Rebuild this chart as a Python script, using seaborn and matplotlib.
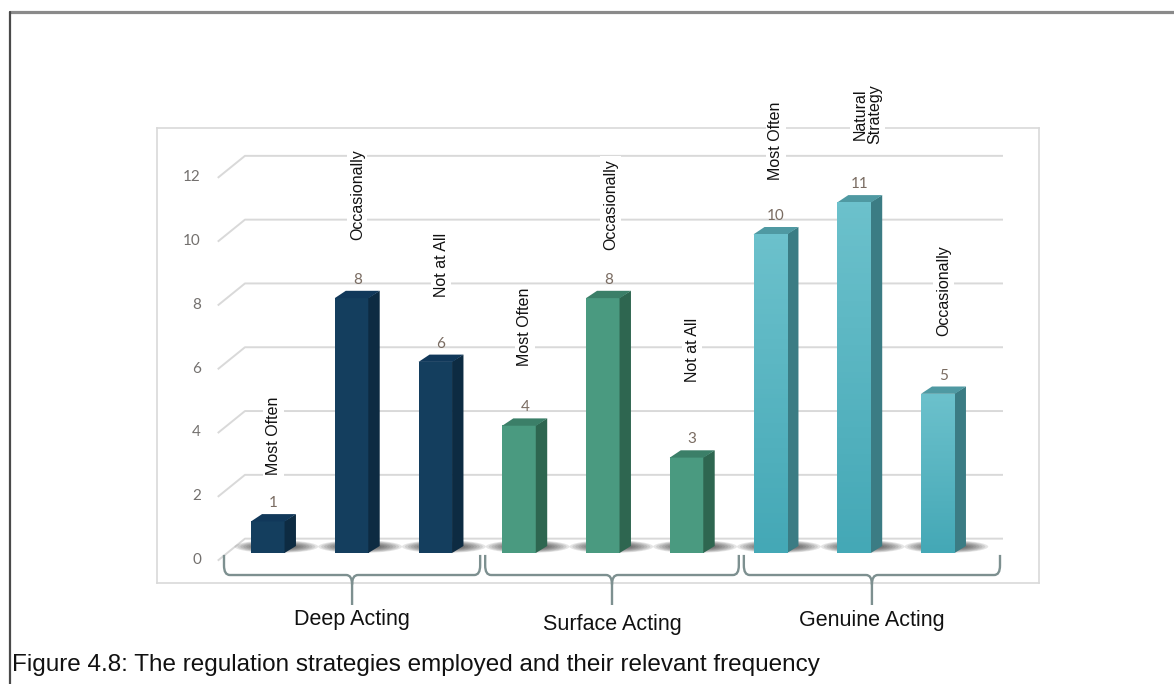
import numpy as np
import pandas as pd
import matplotlib
matplotlib.use("Agg")
import matplotlib.pyplot as plt
from matplotlib.patches import Polygon, Ellipse, PathPatch
from matplotlib.path import Path
from matplotlib.lines import Line2D
from matplotlib.transforms import offset_copy
import seaborn as sns

# ---- data -------------------------------------------------------------
groups = ["Deep Acting", "Surface Acting", "Genuine Acting"]
strategies = ["Most Often", "Occasionally", "Not at All",
              "Most Often", "Occasionally", "Not at All",
              "Most Often", "Natural\nStrategy", "Occasionally"]
counts = [1, 8, 6, 4, 8, 3, 10, 11, 5]
bar_group = [g for g in groups for _ in range(3)]
y_ticks = [0, 2, 4, 6, 8, 10, 12]
caption = "Figure 4.8: The regulation strategies employed and their relevant frequency"

# ---- styling ----------------------------------------------------------
front = {"Deep Acting": "#143e5e", "Surface Acting": "#4a9a80", "Genuine Acting": "#52b6c3"}
side = {"Deep Acting": "#0d2b42", "Surface Acting": "#2e6650", "Genuine Acting": "#3b7c84"}
top = {"Deep Acting": "#11385a", "Surface Acting": "#3b7f68", "Genuine Acting": "#4f99a2"}
# extra lift (pixels) of each rotated strategy label above its value label
label_lift = [17, 29, 36, 30, 19, 46, 25, 29, 28]
# horizontal nudge (pixels) of each rotated strategy label
label_shift = [0, 0, 0, 0, 2, 0, 0, 8, 0]
# small vertical drop (pixels) of each group caption
group_drop = [0, 5, 1]

sns.set_style("white")
plt.rcParams["font.family"] = ["Liberation Sans", "DejaVu Sans"]

W, H = 1174, 684
fig = plt.figure(figsize=(W / 100, H / 100), dpi=100)
L, R, T, B = 157, 1039, 128, 583
ax = fig.add_axes([L / W, (H - B) / H, (R - L) / W, (B - T) / H])

df = pd.DataFrame({"bar": list(range(len(counts))), "count": counts, "group": bar_group})
sns.barplot(data=df, x="bar", y="count", hue="group", palette=front, dodge=False,
            width=0.405, saturation=1, legend=False, ax=ax, zorder=3,
            linewidth=0, edgecolor="none")

# axis scale: 83.75 px per category, 31.9 px per unit
sx, sy = 83.75, 31.9
x0_px, y0_px = 268, 553
xlim = (-(x0_px - L) / sx, (R - x0_px) / sx)
ylim = (-(B - y0_px) / sy, (y0_px - T) / sy)
ax.set_xticks([])
ax.set_yticks([])
ax.set_xlabel("")
ax.set_ylabel("")
for s in ax.spines.values():
    s.set_color("#d9d9d9")
    s.set_linewidth(1.2)

dx, dy = 11 / sx, 7 / sy       # depth of the 3-D bars
fx, bx = -0.6, -0.275           # front / back x of the wall grid
back_end = 8.776
grid_c = "#d9d9d9"

# back-wall gridlines with the receding left edge
for v in y_ticks:
    ax.plot([fx, bx, back_end], [v - 0.24, v + 0.45, v + 0.45],
            color=grid_c, lw=1.4, zorder=1, solid_capstyle="butt")
    ax.text(fx - 0.2, v - 0.22, str(v), ha="right", va="center",
            fontsize=11, color="#73706e", family=["Lato", "DejaVu Sans"])

# 3-D faces, shadows, labels
patches = list(ax.patches)
for p in patches:
    x = p.get_x()
    w = p.get_width()
    h = p.get_height()
    i = int(round(x + w / 2))
    g = bar_group[i]
    x1 = x + w
    # soft floor shadow
    for k in range(8):
        e = Ellipse((x + w / 2 + 0.1, 0.2), width=1.0 - k * 0.07, height=0.40 - k * 0.035,
                    facecolor="#2f2f2f", edgecolor="none", alpha=0.12, zorder=2)
        ax.add_patch(e)
    ax.add_patch(Polygon([(x1 - 0.005, 0), (x1 + dx, dy), (x1 + dx, h + dy), (x1 - 0.005, h)],
                         closed=True, facecolor=side[g], edgecolor="none", zorder=3))
    ax.add_patch(Polygon([(x, h - 0.01), (x + dx, h + dy), (x1 + dx, h + dy), (x1, h - 0.01)],
                         closed=True, facecolor=top[g], edgecolor="none", zorder=3))
    if g == "Genuine Acting":
        grad = np.linspace(0, 1, 64).reshape(-1, 1)
        cmap = matplotlib.colors.LinearSegmentedColormap.from_list("g", ["#44a8b6", "#6cc1cc"])
        im = ax.imshow(grad, extent=[x, x1, 0, h], origin="lower", cmap=cmap,
                       aspect="auto", zorder=3.5)
        im.set_clip_path(p)
    xc = x + w / 2 + dx / 2
    ax.text(xc, h + dy, str(counts[i]),
            transform=offset_copy(ax.transData, fig=fig, x=0, y=4, units="dots"),
            ha="center", va="bottom", fontsize=11, color="#7a6c62",
            family=["Lato", "DejaVu Sans"], zorder=5)
    ax.text(xc, h + dy, strategies[i],
            transform=offset_copy(ax.transData, fig=fig, x=label_shift[i],
                                  y=22 + label_lift[i], units="dots"),
            ha="center", va="bottom", rotation=90, fontsize=11.5, color="#111111",
            linespacing=1.0, zorder=5,
            bbox=dict(facecolor="white", edgecolor="none", pad=2))

ax.set_xlim(*xlim)
ax.set_ylim(*ylim)


def brace(a, b, y_top=-0.06, y_mid=-0.69, y_tip=-1.63, rx=0.07, ry=0.3):
    m = (a + b) / 2
    verts = [(a, y_top), (a, y_mid + ry), (a, y_mid), (a + rx, y_mid),
             (m - rx, y_mid), (m, y_mid), (m, y_mid - ry), (m, y_tip),
             (m, y_mid - ry), (m, y_mid), (m + rx, y_mid),
             (b - rx, y_mid), (b, y_mid), (b, y_mid + ry), (b, y_top)]
    codes = [Path.MOVETO, Path.LINETO, Path.CURVE3, Path.CURVE3,
             Path.LINETO, Path.CURVE3, Path.CURVE3, Path.LINETO,
             Path.MOVETO, Path.CURVE3, Path.CURVE3,
             Path.LINETO, Path.CURVE3, Path.CURVE3, Path.LINETO]
    return PathPatch(Path(verts, codes), facecolor="none", edgecolor="#7d9090",
                     lw=1.7, clip_on=False, zorder=4)


# braces split the floor width into three equal spans
floor_l, floor_r = (224 - x0_px) / sx, (1000 - x0_px) / sx
span = (floor_r - floor_l) / len(groups)
for k, g in enumerate(groups):
    a = floor_l + k * span + (0.03 if k else 0)
    b = floor_l + (k + 1) * span - (0.03 if k < len(groups) - 1 else 0)
    ax.add_patch(brace(a, b))
    ax.text((a + b) / 2, -2.1 - group_drop[k] / sy, g, ha="center", va="center",
            fontsize=15.5, color="#111111", clip_on=False)

fig.text(12 / W, (H - 665) / H, caption, ha="left", va="center",
         fontsize=17.5, color="#111111")

# page frame: top and left rules
fig.add_artist(Line2D([10 / W, 1.0], [(H - 11.5) / H] * 2, color="#8a8a8a", lw=2.3,
                      transform=fig.transFigure))
fig.add_artist(Line2D([10 / W] * 2, [0, (H - 11.5) / H], color="#4a4a4a", lw=1.6,
                      transform=fig.transFigure))

fig.savefig("out.png", dpi=100, facecolor="white")
